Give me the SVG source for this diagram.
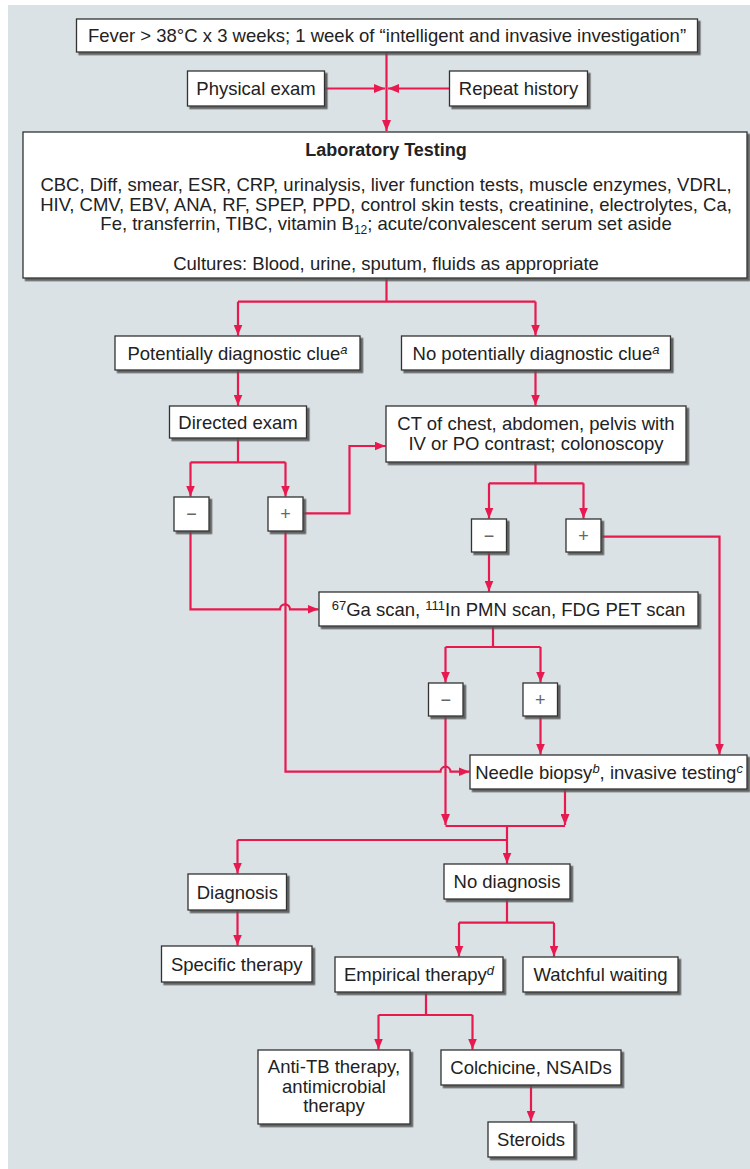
<svg xmlns="http://www.w3.org/2000/svg" width="750" height="1169" viewBox="0 0 750 1169">
<defs>
<filter id="sh" x="-5%" y="-5%" width="115%" height="130%">
<feDropShadow dx="2.5" dy="2.5" stdDeviation="0.6" flood-color="#555" flood-opacity="0.9"/>
</filter>
<marker id="ar" markerUnits="userSpaceOnUse" markerWidth="11" markerHeight="9" refX="11" refY="4.5" orient="auto">
<path d="M0,0 L11,4.5 L0,9 z" fill="#e8194f"/>
</marker>
</defs>
<style>
.bx{fill:#fff;stroke:#333;stroke-width:1.3;filter:url(#sh)}
.t{font-family:"Liberation Sans",Arial,sans-serif;font-size:18.5px;fill:#222;text-anchor:middle}
.b{font-weight:bold;font-size:18px}
.s{font-family:"Liberation Sans",Arial,sans-serif;font-size:18px;fill:#666;text-anchor:middle}
.c path{fill:none;stroke:#e8194f;stroke-width:2.2}
.a{marker-end:url(#ar)}
.sup{font-size:13px;font-style:italic}
</style>
<rect x="8" y="5" width="742" height="1164" fill="#dae2e5"/>

<g class="c" id="connectors">
<path class="a" d="M386.5 52 V131"/>
<path class="a" d="M324.5 88.5 H385"/>
<path class="a" d="M449.5 88.5 H388"/>
<path d="M386.5 278 V301.7 M238 301.7 H535.5"/>
<path class="a" d="M238 301.7 V335.5"/>
<path class="a" d="M535.5 301.7 V335.5"/>
<path class="a" d="M238 370 V405.5"/>
<path class="a" d="M535.5 370 V405.5"/>
<path d="M238 438 V462.3 M190.5 462.3 H285.5"/>
<path class="a" d="M190.5 462.3 V496.5"/>
<path class="a" d="M285.5 462.3 V496.5"/>
<path class="a" d="M303 513.3 H349.5 V446 H385.5"/>
<path d="M535.5 462 V483.3 M489 483.3 H583.5"/>
<path class="a" d="M489 483.3 V518.5"/>
<path class="a" d="M583.5 483.3 V518.5"/>
<path class="a" d="M601 536.7 H719.5 V754.5"/>
<path class="a" d="M489 552 V591.5"/>
<path class="a" d="M190.5 531 V609.3 H280 a5 5 0 0 1 10 0 H318.5"/>
<path class="a" d="M285.5 531 V771.7 H440.5 a5 5 0 0 1 10 0 H469.5"/>
<path d="M493 626 V647 M445.5 647 H540.5"/>
<path class="a" d="M445.5 647 V682.5"/>
<path class="a" d="M540.5 647 V682.5"/>
<path class="a" d="M540.5 716 V754.5"/>
<path class="a" d="M445.5 716 V825"/>
<path class="a" d="M565 789 V825"/>
<path d="M445.5 826 H565 M507 826 V840 M237.5 840 H507"/>
<path class="a" d="M237.5 840 V873.5"/>
<path class="a" d="M507 840 V863.5"/>
<path class="a" d="M237.5 910 V945.5"/>
<path d="M507 899 V922.7 M459 922.7 H554"/>
<path class="a" d="M459 922.7 V956.5"/>
<path class="a" d="M554 922.7 V956.5"/>
<path d="M426 992 V1015 M378.5 1015 H472.5"/>
<path class="a" d="M378.5 1015 V1049.5"/>
<path class="a" d="M472.5 1015 V1049.5"/>
<path class="a" d="M531 1085 V1121.5"/>
</g>

<g id="n-fever"><rect class="bx" x="76.5" y="19" width="621" height="33"/>
<text class="t" x="387" y="42">Fever &gt; 38°C x 3 weeks; 1 week of “intelligent and invasive investigation”</text></g>
<g id="n-physical"><rect class="bx" x="187.5" y="71" width="137" height="35"/>
<text class="t" x="256" y="95">Physical exam</text></g>
<g id="n-history"><rect class="bx" x="449.5" y="71" width="138" height="35"/>
<text class="t" x="518.5" y="95">Repeat history</text></g>
<g id="n-lab"><rect class="bx" x="23" y="132" width="724" height="146"/>
<text class="t b" x="386" y="156">Laboratory Testing</text>
<text class="t" x="386" y="191">CBC, Diff, smear, ESR, CRP, urinalysis, liver function tests, muscle enzymes, VDRL,</text>
<text class="t" x="386" y="211">HIV, CMV, EBV, ANA, RF, SPEP, PPD, control skin tests, creatinine, electrolytes, Ca,</text>
<text class="t" x="386" y="230">Fe, transferrin, TIBC, vitamin B<tspan font-size="12" dy="4">12</tspan><tspan dy="-4">; acute/convalescent serum set aside</tspan></text>
<text class="t" x="386" y="269.5">Cultures: Blood, urine, sputum, fluids as appropriate</text></g>
<g id="n-clue"><rect class="bx" x="115" y="336" width="245" height="34"/>
<text class="t" x="237.5" y="359.5">Potentially diagnostic clue<tspan class="sup" dy="-6">a</tspan></text></g>
<g id="n-noclue"><rect class="bx" x="401.5" y="336" width="269" height="34"/>
<text class="t" x="536" y="359.5">No potentially diagnostic clue<tspan class="sup" dy="-6">a</tspan></text></g>
<g id="n-directed"><rect class="bx" x="169.5" y="406" width="137" height="32"/>
<text class="t" x="238" y="428.5">Directed exam</text></g>
<g id="n-ct"><rect class="bx" x="386" y="406" width="300" height="56"/>
<text class="t" x="536" y="429.5">CT of chest, abdomen, pelvis with</text>
<text class="t" x="536" y="450">IV or PO contrast; colonoscopy</text></g>
<g id="n-minus1"><rect class="bx" x="174" y="497" width="35" height="34"/>
<text class="s" x="191.5" y="520">−</text></g>
<g id="n-plus1"><rect class="bx" x="268" y="497" width="35" height="34"/>
<text class="s" x="285.5" y="520">+</text></g>
<g id="n-minus2"><rect class="bx" x="471.5" y="519" width="35" height="33"/>
<text class="s" x="489" y="542">−</text></g>
<g id="n-plus2"><rect class="bx" x="566" y="519" width="35" height="33"/>
<text class="s" x="583.5" y="542">+</text></g>
<g id="n-ga"><rect class="bx" x="319" y="592" width="379" height="34"/>
<text class="t" x="508.5" y="615.5"><tspan font-size="13" dy="-6">67</tspan><tspan dy="6">Ga scan, </tspan><tspan font-size="13" dy="-6">111</tspan><tspan dy="6">In PMN scan, FDG PET scan</tspan></text></g>
<g id="n-minus3"><rect class="bx" x="428.5" y="683" width="34.5" height="33"/>
<text class="s" x="445.7" y="706">−</text></g>
<g id="n-plus3"><rect class="bx" x="523" y="683" width="34.5" height="33"/>
<text class="s" x="540.3" y="706">+</text></g>
<g id="n-needle"><rect class="bx" x="470" y="755" width="277" height="34"/>
<text class="t" x="609" y="778.5">Needle biopsy<tspan class="sup" dy="-6">b</tspan><tspan dy="6">, invasive testing</tspan><tspan class="sup" dy="-6">c</tspan></text></g>
<g id="n-diagnosis"><rect class="bx" x="188" y="874" width="98.5" height="36"/>
<text class="t" x="237.3" y="898.5">Diagnosis</text></g>
<g id="n-nodiagnosis"><rect class="bx" x="444" y="864" width="126" height="35"/>
<text class="t" x="507" y="888">No diagnosis</text></g>
<g id="n-specific"><rect class="bx" x="161.5" y="946" width="150.5" height="36"/>
<text class="t" x="236.7" y="970.5">Specific therapy</text></g>
<g id="n-empirical"><rect class="bx" x="335" y="957" width="168" height="35"/>
<text class="t" x="419" y="981">Empirical therapy<tspan class="sup" dy="-6">d</tspan></text></g>
<g id="n-watchful"><rect class="bx" x="523" y="957" width="155" height="35"/>
<text class="t" x="600.5" y="981">Watchful waiting</text></g>
<g id="n-antitb"><rect class="bx" x="258" y="1050" width="152" height="74"/>
<text class="t" x="334" y="1073">Anti-TB therapy,</text>
<text class="t" x="334" y="1092.5">antimicrobial</text>
<text class="t" x="334" y="1112">therapy</text></g>
<g id="n-colchicine"><rect class="bx" x="441" y="1050" width="180" height="35"/>
<text class="t" x="531" y="1074">Colchicine, NSAIDs</text></g>
<g id="n-steroids"><rect class="bx" x="488" y="1122" width="86" height="35"/>
<text class="t" x="531" y="1146">Steroids</text></g>
</svg>
